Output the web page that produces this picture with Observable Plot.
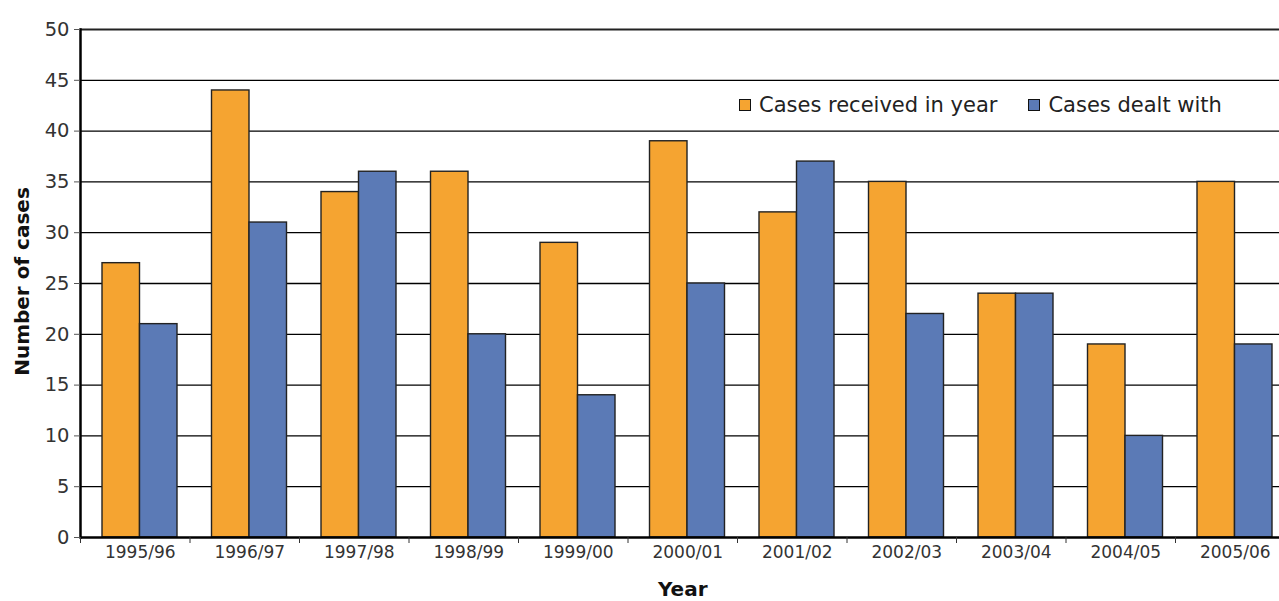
<!DOCTYPE html>
<html>
<head>
<meta charset="utf-8">
<script src="https://cdn.jsdelivr.net/npm/d3@7"></script>
<script src="https://cdn.jsdelivr.net/npm/@observablehq/plot@0.6"></script>
<style>
  html, body { margin: 0; padding: 0; background: #fff; }
  #wrap { position: relative; width: 1279px; height: 601px; overflow: hidden; font-family: "DejaVu Sans", sans-serif; }
  #legend { position: absolute; left: 739px; top: 93px; display: flex; align-items: center; font-size: 21px; color: #222; }
  #legend .sw { display: inline-block; width: 10px; height: 10px; border: 1.5px solid #111; margin-right: 8px; }
  #legend .item { display: flex; align-items: center; margin-right: 31px; }
</style>
</head>
<body>
<div id="wrap">
  <div id="chart"></div>
  <div id="legend"></div>
</div>
<script>
const years = ["1995/96","1996/97","1997/98","1998/99","1999/00","2000/01","2001/02","2002/03","2003/04","2004/05","2005/06"];
const received = [27, 44, 34, 36, 29, 39, 32, 35, 24, 19, 35];
const dealt = [21, 31, 36, 20, 14, 25, 37, 22, 24, 10, 19];
const seriesNames = ["Cases received in year", "Cases dealt with"];
const seriesColors = ["#F5A431", "#5B7AB6"];
const yTicks = [0, 5, 10, 15, 20, 25, 30, 35, 40, 45, 50];

const recData = years.map((y, i) => ({year: y, value: received[i]}));
const dealtData = years.map((y, i) => ({year: y, value: dealt[i]}));

const font = "'DejaVu Sans', sans-serif";

const chart = Plot.plot({
  width: 1279,
  height: 601,
  marginTop: 29,
  marginBottom: 64,
  marginLeft: 80,
  marginRight: -5.5,
  style: {fontFamily: font, background: "white", overflow: "visible"},
  x: {domain: years, padding: 0, round: false, label: null},
  y: {domain: [0, 50], label: null},
  marks: [
    Plot.gridY(yTicks.filter(d => d > 0 && d < 50), {stroke: "#000", strokeOpacity: 1, strokeWidth: 1.3}),
    Plot.barY(recData, {x: "year", y: "value", fill: seriesColors[0], stroke: "#222", strokeWidth: 1.4, insetLeft: 22, insetRight: 50}),
    Plot.barY(dealtData, {x: "year", y: "value", fill: seriesColors[1], stroke: "#222", strokeWidth: 1.4, insetLeft: 59.5, insetRight: 12.5}),
    Plot.ruleY([50], {stroke: "#222", strokeWidth: 2}),
    Plot.ruleY([0], {stroke: "#000", strokeWidth: 2.5}),
    Plot.frame({anchor: "left", stroke: "#000", strokeWidth: 2.5}),
    Plot.axisY({ticks: yTicks, tickSize: 6, tickPadding: 5, fontSize: 19.5, color: "#333", stroke: "#555", label: null}),
    Plot.axisX({tickSize: 0, tickPadding: 8, dx: 5, fontSize: 17, color: "#333", label: null}),
    Plot.axisX({tickSize: 6, tickFormat: () => "", dx: -54.75, stroke: "#333", label: null}),
    Plot.text(["Number of cases"], {frameAnchor: "left", textAnchor: "middle", rotate: -90, dx: -58, dy: -2, fontSize: 20, fontWeight: "bold", fill: "#111"}),
    Plot.text(["Year"], {frameAnchor: "bottom", dy: 58, fontSize: 20, fontWeight: "bold", fill: "#111"})
  ]
});
document.getElementById("chart").appendChild(chart);

const legend = document.getElementById("legend");
seriesNames.forEach((name, i) => {
  const item = document.createElement("div");
  item.className = "item";
  const sw = document.createElement("span");
  sw.className = "sw";
  sw.style.background = seriesColors[i];
  item.appendChild(sw);
  item.appendChild(document.createTextNode(name));
  legend.appendChild(item);
});
</script>
</body>
</html>
